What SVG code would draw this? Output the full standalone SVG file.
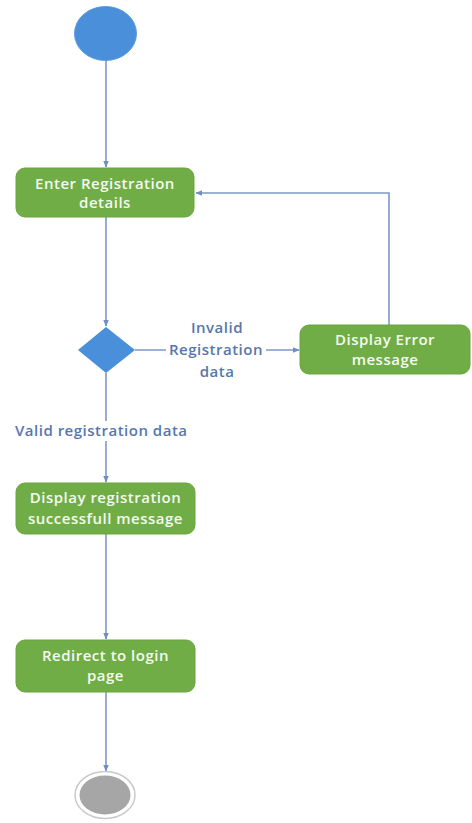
<svg xmlns="http://www.w3.org/2000/svg" width="472" height="823" viewBox="0 0 472 823">
<defs>
<marker id="arr" viewBox="0 0 10 10" refX="9" refY="5" markerWidth="7" markerHeight="7" orient="auto" markerUnits="userSpaceOnUse">
<path d="M0,1 L10,5 L0,9 Z" fill="#6f8fc0"/>
</marker>
<style>
.box{fill:#70ad47;stroke:#6aa43f;stroke-width:1}
.bt{font-family:"Open Sans","Noto Sans",sans-serif;font-size:15px;font-weight:600;letter-spacing:0.5px;fill:#f4fbef;text-anchor:middle}
.lt{font-family:"Open Sans","Noto Sans",sans-serif;font-size:15px;font-weight:600;letter-spacing:0.5px;fill:#5677ad}
.ln{stroke:#7e98c4;stroke-width:1.6;fill:none}
</style>
</defs>
<rect width="472" height="823" fill="#ffffff"/>
<g id="connectors">
<line class="ln" x1="106" y1="60" x2="106" y2="167" marker-end="url(#arr)"/>
<line class="ln" x1="106" y1="217" x2="106" y2="326" marker-end="url(#arr)"/>
<line class="ln" x1="135" y1="350" x2="299" y2="350" marker-end="url(#arr)"/>
<polyline class="ln" points="389,325 389,193 196,193" marker-end="url(#arr)"/>
<line class="ln" x1="106" y1="373" x2="106" y2="482" marker-end="url(#arr)"/>
<line class="ln" x1="106" y1="534" x2="106" y2="639" marker-end="url(#arr)"/>
<line class="ln" x1="106" y1="692" x2="106" y2="771" marker-end="url(#arr)"/>
</g>
<g id="label-invalid">
<rect x="166" y="341" width="100" height="18" fill="#ffffff"/>
<text class="lt" text-anchor="middle" x="217" y="333">Invalid</text>
<text class="lt" text-anchor="middle" x="216" y="355">Registration</text>
<text class="lt" text-anchor="middle" x="217" y="377">data</text>
</g>
<g id="label-valid">
<rect x="13" y="421" width="186" height="20" fill="#ffffff"/>
<text class="lt" x="15" y="436">Valid registration data</text>
</g>
<g id="start">
<ellipse cx="105.5" cy="33.5" rx="31" ry="27" fill="#4a8fd9" stroke="#5b9be0" stroke-width="1"/>
</g>
<g id="enter">
<rect class="box" x="16" y="168" width="178" height="49" rx="9"/>
<text class="bt" x="105" y="189">Enter Registration</text>
<text class="bt" x="105" y="208">details</text>
</g>
<g id="decision">
<polygon points="106,327 135,350 106,373 78,350" fill="#4a8fd9"/>
</g>
<g id="error">
<rect class="box" x="300" y="325" width="170" height="49" rx="9"/>
<text class="bt" x="385" y="345">Display Error</text>
<text class="bt" x="385" y="365">message</text>
</g>
<g id="success">
<rect class="box" x="16" y="483" width="179" height="51" rx="9"/>
<text class="bt" x="105.5" y="503">Display registration</text>
<text class="bt" x="105.5" y="524">successfull message</text>
</g>
<g id="redirect">
<rect class="box" x="16" y="640" width="179" height="52" rx="9"/>
<text class="bt" x="105.5" y="661">Redirect to login</text>
<text class="bt" x="105.5" y="681">page</text>
</g>
<g id="end">
<ellipse cx="105" cy="795" rx="30" ry="23.5" fill="#ffffff" stroke="#c9c9c9" stroke-width="1.5"/>
<ellipse cx="105" cy="795" rx="25.5" ry="19.5" fill="#a6a6a6"/>
</g>
</svg>
